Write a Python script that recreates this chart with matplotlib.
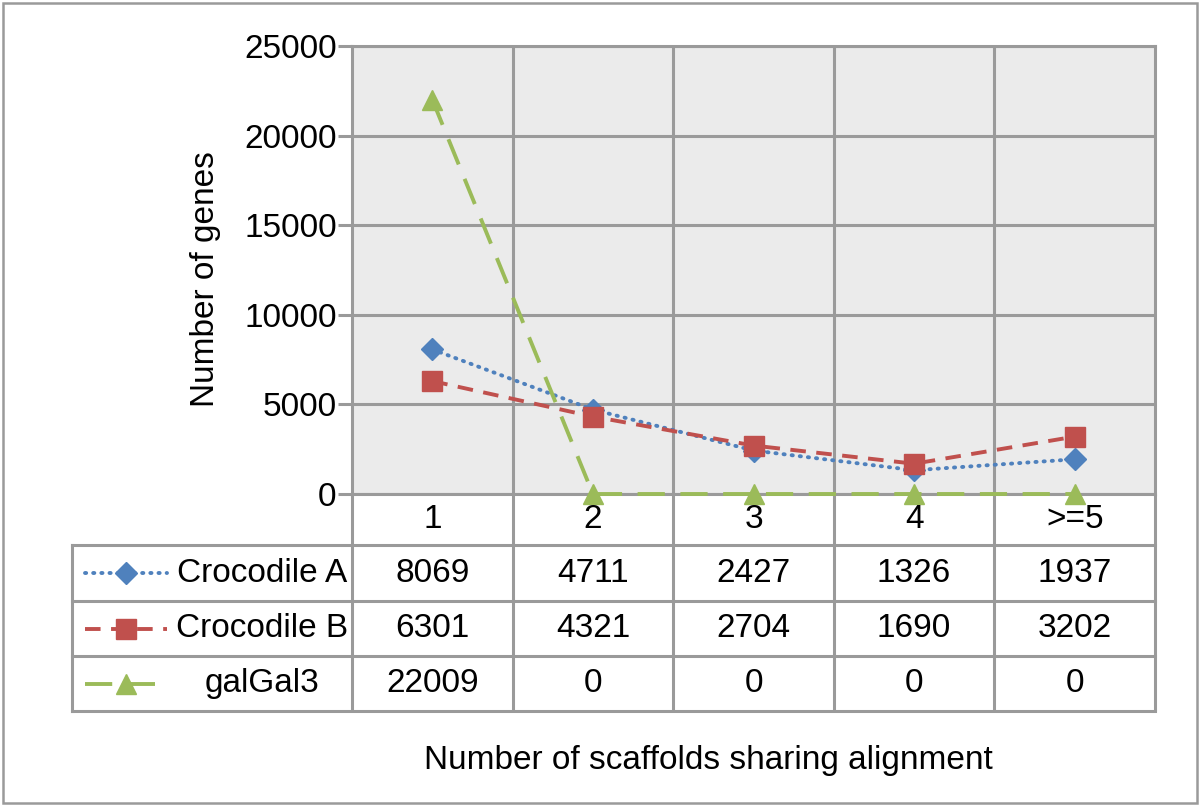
import numpy as np
import matplotlib.pyplot as plt
from matplotlib import transforms
from matplotlib.patches import Rectangle

plt.rcParams['font.family'] = ['Liberation Sans', 'DejaVu Sans']

categories = ['1', '2', '3', '4', '>=5']
series_names = ['Crocodile A', 'Crocodile B', 'galGal3']
croc_a = [8069, 4711, 2427, 1326, 1937]
croc_b = [6301, 4321, 2704, 1690, 3202]
galgal = [22009, 0, 0, 0, 0]
y_ticks = [0, 5000, 10000, 15000, 20000, 25000]

colors = ['#4F81BD', '#C0504D', '#9BBB59']
markers = ['D', 's', '^']
msizes = [11, 14, 14]
dashes = [(0.3, 1.8), (4, 2.7), (7, 4)]
grid_c = '#9A9A9A'
W, H = 1200, 806
fs = 24
lw_s = 2.8

fig = plt.figure(figsize=(12, 8.06), dpi=100)
ax = fig.add_axes([352 / W, 1 - 494 / H, (1155 - 352) / W, 448 / H])
ax.set_facecolor('#EBEBEB')

x = np.arange(1, len(categories) + 1)
all_series = [croc_a, croc_b, galgal]
for vals, c, m, ms, d in zip(all_series, colors, markers, msizes, dashes):
    line, = ax.plot(x, vals, color=c, lw=lw_s, marker=m, ms=ms, mec=c, mfc=c,
                    clip_on=False, zorder=3)
    line.set_dashes(d)
    if d[0] < 1:
        line.set_dash_capstyle('round')

ax.set_xlim(0.5, len(categories) + 0.5)
ax.set_ylim(0, 25000)
ax.set_yticks(y_ticks)
ax.set_yticklabels([str(v) for v in y_ticks], fontsize=fs)
ax.set_xticks([])
ax.tick_params(axis='y', length=10, width=2.2, color=grid_c, pad=1)
ax.grid(axis='y', color=grid_c, lw=2.2, zorder=1)
ax.set_axisbelow(True)
for xb in np.arange(1.5, len(categories), 1):
    ax.axvline(xb, color=grid_c, lw=2.2, zorder=1)
for sp in ax.spines.values():
    sp.set_color(grid_c)
    sp.set_linewidth(2.2)

ax.set_ylabel('Number of genes', fontsize=fs)
ax.yaxis.set_label_coords(-0.163, 0.48)

# data table under the axis (x in data coords, y in figure fraction)
tr = transforms.blended_transform_factory(ax.transData, fig.transFigure)
fy = lambda p: 1 - p / H
rows_px = [494, 545, 601, 656, 711]
lw_t = 2.2
for xb in np.arange(0.5, len(categories) + 1, 1):
    ax.plot([xb, xb], [fy(494), fy(711)], transform=tr, color=grid_c, lw=lw_t,
            clip_on=False, solid_capstyle='butt')
for yp in rows_px[1:]:
    fig.add_artist(plt.Line2D([72 / W, 1155 / W], [fy(yp), fy(yp)], color=grid_c, lw=lw_t))
fig.add_artist(plt.Line2D([72 / W, 72 / W], [fy(545), fy(711)], color=grid_c, lw=lw_t))

for xi, cat in zip(x, categories):
    ax.text(xi, fy(520), cat, transform=tr, ha='center', va='center', fontsize=fs)

for r, (name, vals, c, m, ms, d) in enumerate(zip(series_names, all_series, colors,
                                                   markers, msizes, dashes)):
    yc = fy((rows_px[r + 1] + rows_px[r + 2]) / 2)
    for xi, v in zip(x, vals):
        ax.text(xi, yc, str(v), transform=tr, ha='center', va='center', fontsize=fs)
    ln = plt.Line2D([85 / W, 167 / W], [yc, yc], color=c, lw=lw_s)
    ln.set_dashes(d)
    if d[0] < 1:
        ln.set_dash_capstyle('round')
    fig.add_artist(ln)
    fig.add_artist(plt.Line2D([126 / W], [yc], color=c, marker=m, ms=ms, mec=c, mfc=c))
    fig.text(262 / W, yc, name, ha='center', va='center', fontsize=fs)

fig.text(708 / W, fy(760), 'Number of scaffolds sharing alignment', ha='center',
         va='center', fontsize=fs)

fig.add_artist(Rectangle((3 / W, 3 / H), 1 - 6 / W, 1 - 6 / H, transform=fig.transFigure,
                         fill=False, ec=grid_c, lw=1.8))

fig.savefig('out.png', dpi=100)
